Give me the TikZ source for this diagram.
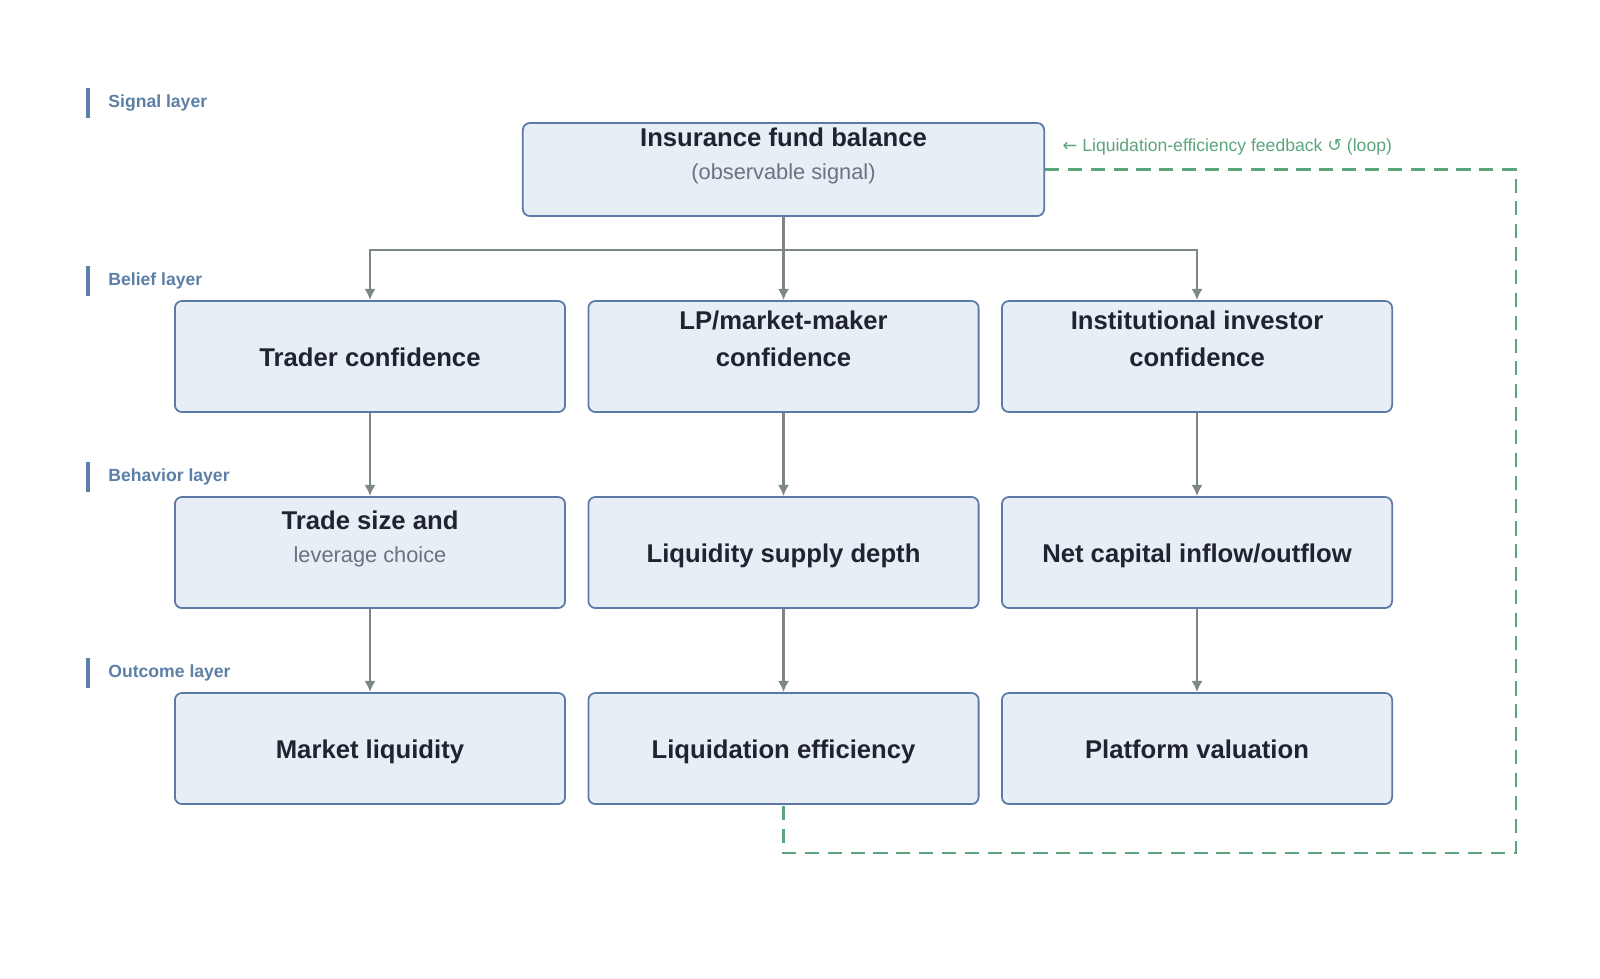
\documentclass[tikz,border=0pt]{standalone}
\usepackage{fontspec}
\setmainfont{Liberation Sans}
\newfontfamily\symfont{DejaVu Sans}
\usetikzlibrary{positioning,arrows.meta}
\definecolor{boxfill}{HTML}{E8EEF6}
\definecolor{boxline}{HTML}{5B7BA6}
\definecolor{txtdark}{HTML}{1F2430}
\definecolor{txtgray}{HTML}{6B7280}
\definecolor{linkgray}{HTML}{7E8788}
\definecolor{loopgreen}{HTML}{5BA57C}
\definecolor{layerblue}{HTML}{5B7FA6}
\newcommand{\subtxt}[1]{{\fontsize{6.2}{8}\selectfont\mdseries\color{txtgray}#1}}
\tikzset{
  box/.style={shape=rectangle, rounded corners=2pt, draw=boxline, fill=boxfill,
              line width=0.5pt, minimum width=3.9cm, minimum height=1.11cm,
              text height=1.55ex, text depth=0.45ex,
              align=center, text=txtdark, font=\fontsize{7.3}{10.5}\selectfont\bfseries},
  layer/.style={anchor=west, text=layerblue, font=\fontsize{5.0}{6}\selectfont\bfseries},
  link/.style={draw=linkgray, line width=0.7pt, -{Latex[length=3.2pt,width=3.2pt]}},
  loop/.style={draw=loopgreen, line width=0.7pt, dash pattern=on 4pt off 2.5pt}
}
\begin{document}
\begin{tikzpicture}[x=0.01cm,y=-0.01cm]
\useasboundingbox (0,0) rectangle (1600,978);

% layer labels
\foreach \ly/\lt [count=\i] in {103/Signal layer,281/Belief layer,477/Behavior layer,673/Outcome layer}{
  \draw[layerblue, line width=1.2pt] (88,\ly-15) -- (88,\ly+15);
  \node[layer] (lay\i) at (96,\ly) {\lt};
}

% signal
\node[box, minimum width=5.21cm, minimum height=0.93cm] (sig) at (783.5,169.5)
  {Insurance fund balance\\[-1pt]\subtxt{(observable signal)}};

% beliefs
\node[box] (b1) at (370,356.5) {Trader confidence};
\node[box] (b2) at (783.5,356.5) {LP/market-maker\\confidence};
\node[box] (b3) at (1197,356.5) {Institutional investor\\confidence};

% behaviors
\node[box] (h1) at (370,552.5) {Trade size and\\[-1pt]\subtxt{leverage choice}};
\node[box] (h2) at (783.5,552.5) {Liquidity supply depth};
\node[box] (h3) at (1197,552.5) {Net capital inflow/outflow};

% outcomes
\node[box] (o1) at (370,748.5) {Market liquidity};
\node[box] (o2) at (783.5,748.5) {Liquidation efficiency};
\node[box] (o3) at (1197,748.5) {Platform valuation};

% paths
\coordinate (split) at (783.5,250);
\draw[linkgray, line width=0.7pt] (sig.south) -- (split);
\draw[link] (split) -| (b1.north);
\draw[link] (split) -- (b2.north);
\draw[link] (split) -| (b3.north);
\foreach \c in {1,2,3}{
  \draw[link] (b\c) -- (h\c);
  \draw[link] (h\c) -- (o\c);
}

% feedback loop
\coordinate (lpa) at (1516,169.5);
\coordinate (lpb) at (1516,853);
\draw[loop] (sig.east) -- (lpa) -- (lpb) -| (o2.south);
\node[anchor=west, text=loopgreen, font=\fontsize{5.0}{6}\selectfont, inner sep=0pt] (fb) at (1062,147)
  {{\symfont ←} Liquidation-efficiency feedback {\symfont ↺} (loop)};
\end{tikzpicture}
\end{document}
